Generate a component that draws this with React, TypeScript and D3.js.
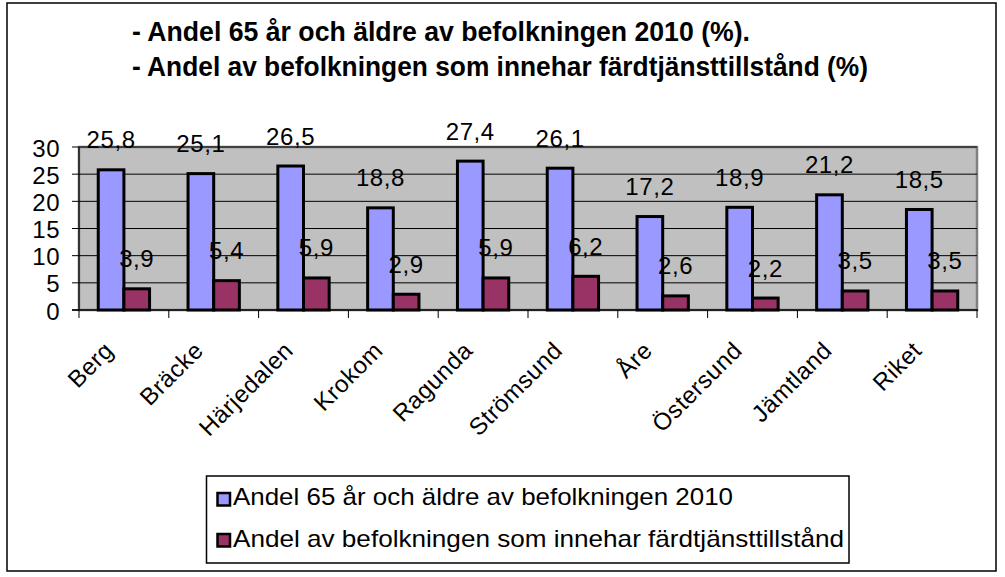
import React from "react";
import * as d3 from "d3";

const categories = ["Berg", "Bräcke", "Härjedalen", "Krokom", "Ragunda", "Strömsund", "Åre", "Östersund", "Jämtland", "Riket"];
const share65 = [25.8, 25.1, 26.5, 18.8, 27.4, 26.1, 17.2, 18.9, 21.2, 18.5];
const shareFardtjanst = [3.9, 5.4, 5.9, 2.9, 5.9, 6.2, 2.6, 2.2, 3.5, 3.5];
const yTicks = [0, 5, 10, 15, 20, 25, 30];
const seriesNames = ["Andel 65 år och äldre av befolkningen 2010", "Andel av befolkningen som innehar färdtjänsttillstånd"];
const titleLines = ["- Andel 65 år och äldre av befolkningen 2010 (%).", "- Andel av befolkningen som innehar färdtjänsttillstånd (%)"];
const colors = ["#9999FF", "#993366"];

const W = 1005, H = 577;
const plot = { left: 79, right: 977, top: 147, bottom: 310 };
const font = "'Liberation Sans', Arial, sans-serif";

const fmt = (v: number) => v.toFixed(1).replace(".", ",");

export default function App() {
  const x = d3.scaleBand<string>().domain(categories).range([plot.left, plot.right]).paddingInner(0).paddingOuter(0);
  const y = d3.scaleLinear().domain([0, 30]).range([plot.bottom, plot.top]);
  const bw = x.bandwidth() / 3.5;
  const series = [share65, shareFardtjanst];

  return (
    <svg width={W} height={H} style={{ position: "absolute", left: 0, top: 0, background: "#fff" }} fontFamily={font}>
      <rect x={7} y={3} width={989} height={568} fill="#fff" stroke="#000" strokeWidth={1.5} />
      {titleLines.map((t, i) => (
        <text key={i} x={132} y={i === 0 ? 40.5 : 76} fontSize={27} fontWeight="bold" textLength={i === 0 ? 618 : 736} lengthAdjust="spacingAndGlyphs">{t}</text>
      ))}
      <rect x={plot.left} y={plot.top} width={plot.right - plot.left} height={plot.bottom - plot.top} fill="#C0C0C0" stroke="#808080" strokeWidth={2.5} />
      {yTicks.filter(t => t > 0).map(t => (
        <line key={t} x1={plot.left} x2={plot.right} y1={y(t)} y2={y(t)} stroke="#000" strokeWidth={1} />
      ))}
      {categories.map((c, i) => (
        <g key={c}>
          {series.map((s, k) => {
            const x0 = (x(c) as number) + x.bandwidth() / 2 - bw + k * bw;
            return (
              <g key={k}>
                <rect x={x0} y={y(s[i])} width={bw} height={y(0) - y(s[i])} fill={colors[k]} stroke="#000" strokeWidth={3} />
                <text x={x0 + bw / 2} y={y(s[i]) - 21.5} fontSize={24} textAnchor="middle" letterSpacing={0.6}>{fmt(s[i])}</text>
              </g>
            );
          })}
        </g>
      ))}
      <line x1={plot.left} x2={plot.left} y1={plot.top} y2={plot.bottom} stroke="#000" strokeWidth={1.2} />
      <line x1={plot.left - 7} x2={plot.right + 1} y1={plot.bottom} y2={plot.bottom} stroke="#000" strokeWidth={1.5} />
      {yTicks.map(t => (
        <g key={t}>
          <line x1={plot.left - 7} x2={plot.left} y1={y(t)} y2={y(t)} stroke="#000" strokeWidth={1} />
          <text x={60} y={y(t) + 1} fontSize={24} textAnchor="end" dominantBaseline="central" letterSpacing={0.5}>{t}</text>
        </g>
      ))}
      {d3.range(categories.length + 1).map(i => {
        const xx = plot.left + i * x.bandwidth();
        return <line key={i} x1={xx} x2={xx} y1={plot.bottom} y2={plot.bottom + 8} stroke="#000" strokeWidth={1} />;
      })}
      {categories.map(c => {
        const cx = (x(c) as number) + x.bandwidth() / 2 - 9;
        return (
          <text key={c} x={0} y={0} fontSize={24} textAnchor="end" letterSpacing={0.5} transform={`translate(${cx},352) rotate(-45)`}>{c}</text>
        );
      })}
      <rect x={206.5} y={476} width={642.5} height={87} fill="#fff" stroke="#000" strokeWidth={1.5} />
      {seriesNames.map((n, k) => (
        <g key={k}>
          <rect x={217.5} y={493 + k * 41} width={12.5} height={12.5} fill={colors[k]} stroke="#000" strokeWidth={2.5} />
          <text x={233} y={505 + k * 41.5} fontSize={24} textLength={k === 0 ? 500 : 611} lengthAdjust="spacingAndGlyphs">{n}</text>
        </g>
      ))}
    </svg>
  );
}
